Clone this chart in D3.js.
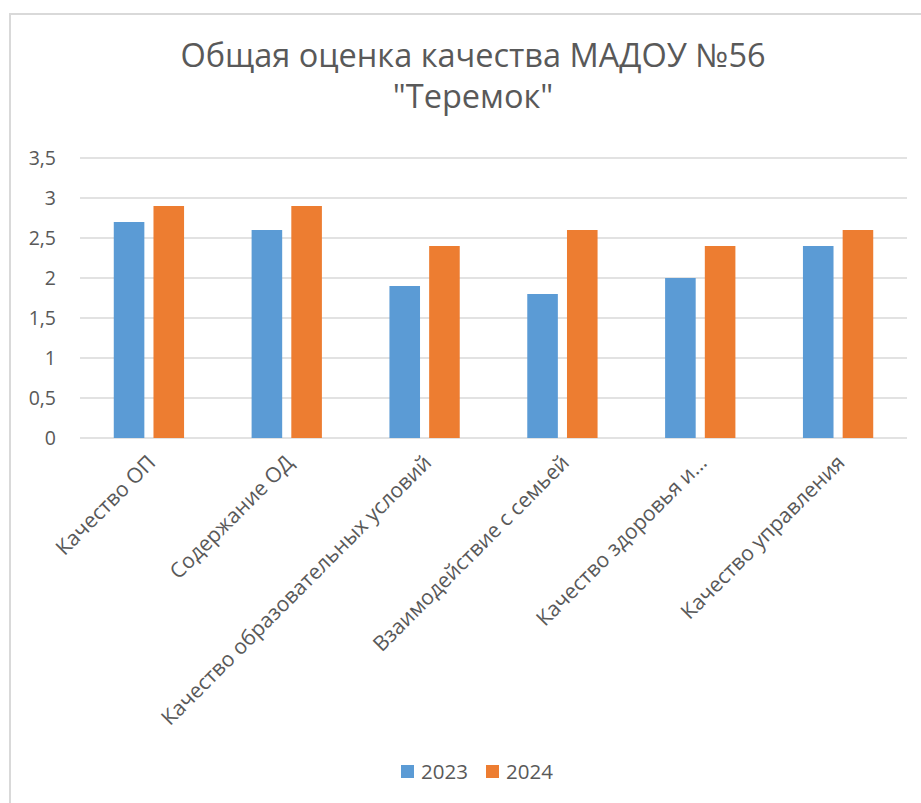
<!DOCTYPE html>
<html>
<head>
<meta charset="utf-8">
<script src="https://cdn.jsdelivr.net/npm/d3@7"></script>
<style>
  body { margin: 0; background: #fff; }
  text { fill: #595959; font-family: "Open Sans", "Noto Sans", sans-serif; }
</style>
</head>
<body>
<svg id="chart" width="921" height="803"></svg>
<script>
// data
var categories = ["Качество ОП", "Содержание ОД", "Качество образовательных условий",
                  "Взаимодействие с семьей", "Качество здоровья и...", "Качество управления"];
var years = ["2023", "2024"];
var values2023 = [2.7, 2.6, 1.9, 1.8, 2.0, 2.4];
var values2024 = [2.9, 2.9, 2.4, 2.6, 2.4, 2.6];
var yTicks = [0, 0.5, 1, 1.5, 2, 2.5, 3, 3.5];
var titleLines = ["Общая оценка качества МАДОУ №56", "\"Теремок\""];

var colors = ["#5B9BD5", "#ED7D31"];
var series = [values2023, values2024];

var svg = d3.select("#chart");

// outer chart border
svg.append("rect")
    .attr("x", 10).attr("y", 14)
    .attr("width", 940).attr("height", 820)
    .attr("fill", "none")
    .attr("stroke", "#d9d9d9")
    .attr("stroke-width", 2);

var plotLeft = 80, plotRight = 907, plotTop = 158, plotBottom = 438;

var x = d3.scaleBand()
    .domain(categories)
    .range([plotLeft, plotRight])
    .paddingInner(0.49)
    .paddingOuter(0.245);

var xInner = d3.scaleBand()
    .domain(years)
    .range([0, x.bandwidth()])
    .paddingInner(0.23);

var y = d3.scaleLinear()
    .domain([0, 3.5])
    .range([plotBottom, plotTop]);

// title
svg.append("text")
    .attr("text-anchor", "middle")
    .style("font-size", "32.5px")
    .selectAll("tspan")
    .data(titleLines).enter()
    .append("tspan")
    .attr("x", 473)
    .attr("y", function(d, i) { return 67 + i * 41; })
    .text(function(d) { return d; });

// gridlines
svg.append("g")
    .selectAll("line")
    .data(yTicks).enter()
    .append("line")
    .attr("x1", plotLeft).attr("x2", plotRight)
    .attr("y1", function(d) { return y(d); })
    .attr("y2", function(d) { return y(d); })
    .attr("stroke", "#d9d9d9")
    .attr("stroke-width", 1.4);

// y axis labels
var yAxis = d3.axisLeft(y)
    .tickValues(yTicks)
    .tickSize(0)
    .tickPadding(0)
    .tickFormat(function(d) { return String(d).replace(".", ","); });

var gy = svg.append("g")
    .attr("transform", "translate(56,0)")
    .call(yAxis);
gy.select(".domain").remove();
gy.selectAll("text")
    .attr("fill", "#595959")
    .style("font-size", "19.5px")
    .style("font-family", "'Open Sans', sans-serif");

// bars
var groups = svg.append("g")
    .selectAll("g")
    .data(categories).enter()
    .append("g")
    .attr("transform", function(d) { return "translate(" + x(d) + ",0)"; });

groups.selectAll("rect")
    .data(function(d, i) {
      return years.map(function(yr, j) { return { year: yr, value: series[j][i], color: colors[j] }; });
    }).enter()
    .append("rect")
    .attr("x", function(d) { return xInner(d.year); })
    .attr("y", function(d) { return y(d.value); })
    .attr("width", xInner.bandwidth())
    .attr("height", function(d) { return y(0) - y(d.value); })
    .attr("fill", function(d) { return d.color; });

// x axis labels, rotated
var xAxis = d3.axisBottom(x).tickSize(0).tickPadding(0);
var gx = svg.append("g")
    .attr("transform", "translate(0," + plotBottom + ")")
    .call(xAxis);
gx.select(".domain").remove();
gx.selectAll("text")
    .attr("fill", "#595959")
    .style("font-size", "21px")
    .style("font-family", "'Open Sans', sans-serif")
    .attr("text-anchor", "end")
    .attr("dy", null)
    .attr("y", 0)
    .attr("transform", "translate(8,26) rotate(-45)");

// legend
var legend = svg.append("g")
    .selectAll("g")
    .data(years).enter()
    .append("g")
    .attr("transform", function(d, i) { return "translate(" + (401 + i * 85) + ",765)"; });

legend.append("rect")
    .attr("width", 13).attr("height", 13)
    .attr("fill", function(d, i) { return colors[i]; });

legend.append("text")
    .attr("x", 20)
    .attr("y", 14)
    .style("font-size", "20.5px")
    .text(function(d) { return d; });
</script>
</body>
</html>
